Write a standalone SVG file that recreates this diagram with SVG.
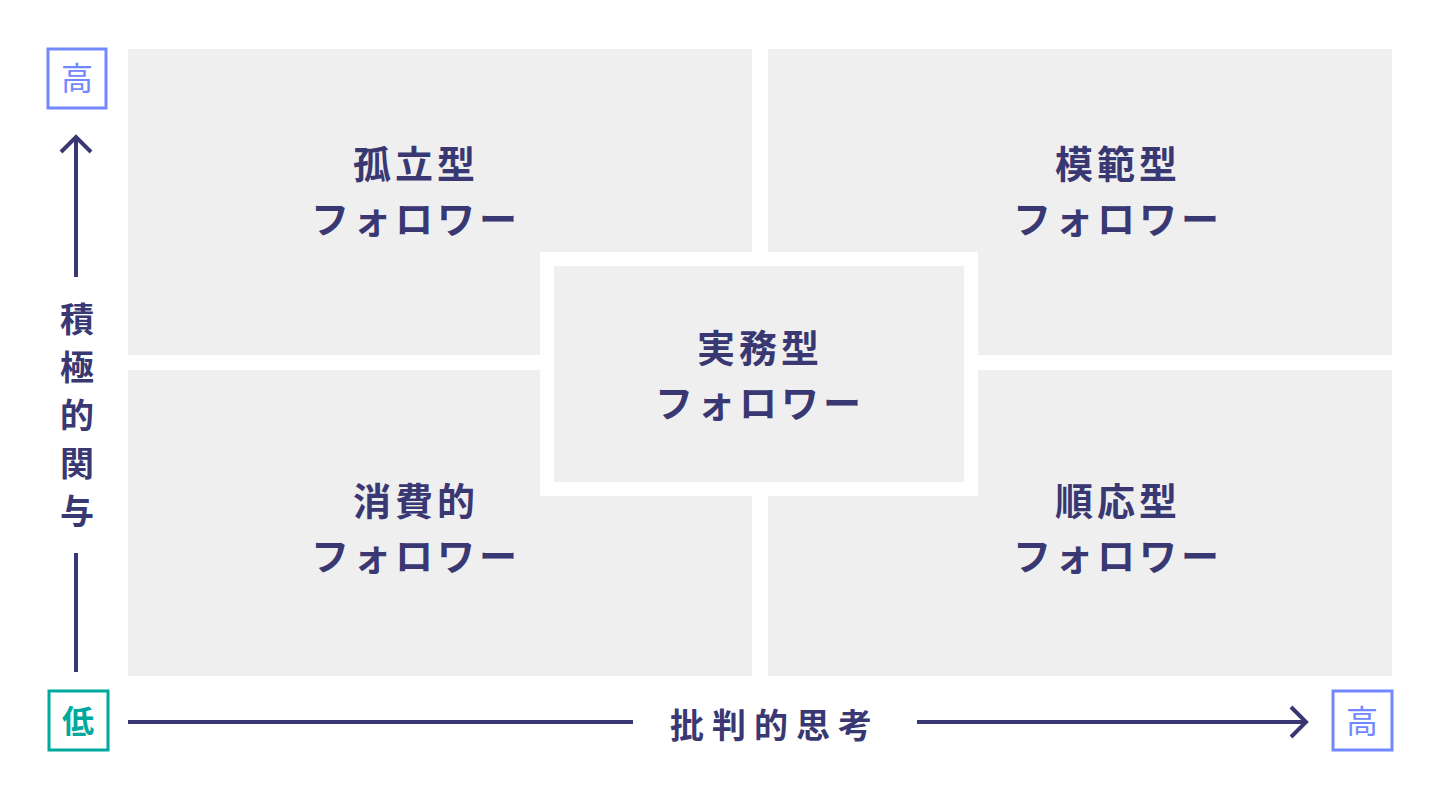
<svg xmlns="http://www.w3.org/2000/svg" width="1440" height="800" viewBox="0 0 1440 800">
<style>
.q{fill:#efefef}
.t{font-family:"Noto Sans CJK JP",sans-serif;font-weight:700;fill:#393872;text-anchor:middle;font-size:38px;letter-spacing:4px}
.ax{font-family:"Noto Sans CJK JP",sans-serif;font-weight:700;fill:#393872;text-anchor:middle;font-size:34px}
.ln{stroke:#393872;stroke-width:4;fill:none}
</style>
<rect width="1440" height="800" fill="#fff"/>
<g id="q-tl"><rect class="q" x="128" y="49" width="624" height="306"/><text class="t" x="416" y="178">孤立型</text><text class="t" x="416" y="233">フォロワー</text></g>
<g id="q-tr"><rect class="q" x="768" y="49" width="624" height="306"/><text class="t" x="1118" y="178">模範型</text><text class="t" x="1118" y="233">フォロワー</text></g>
<g id="q-bl"><rect class="q" x="128" y="370" width="624" height="306"/><text class="t" x="416" y="515">消費的</text><text class="t" x="416" y="570">フォロワー</text></g>
<g id="q-br"><rect class="q" x="768" y="370" width="624" height="306"/><text class="t" x="1118" y="515">順応型</text><text class="t" x="1118" y="570">フォロワー</text></g>
<g id="center"><rect x="540" y="252" width="438" height="244" fill="#fff"/><rect class="q" x="554" y="266" width="410" height="216"/><text class="t" x="760" y="362">実務型</text><text class="t" x="760" y="417">フォロワー</text></g>
<g id="connectors">
<line class="ln" x1="76" y1="137" x2="76" y2="277"/><polyline class="ln" points="61,152 76,137 91,152"/>
<line class="ln" x1="76" y1="553" x2="76" y2="672"/>
<line class="ln" x1="128" y1="722" x2="633" y2="722"/>
<line class="ln" x1="917" y1="722" x2="1305" y2="722"/><polyline class="ln" points="1291,707 1306,722 1291,737"/>
</g>
<g id="hi-v"><rect x="48" y="49" width="58" height="59" fill="none" stroke="#7288ff" stroke-width="3"/><text x="77" y="90" font-family="Noto Sans CJK JP,sans-serif" font-size="32" fill="#7288ff" text-anchor="middle">高</text></g>
<g id="lo"><rect x="49" y="691" width="59" height="59" fill="none" stroke="#00a99d" stroke-width="3"/><text x="78" y="733" font-family="Noto Sans CJK JP,sans-serif" font-weight="700" font-size="32" fill="#00a99d" text-anchor="middle">低</text></g>
<g id="hi-h"><rect x="1333" y="691" width="59" height="59" fill="none" stroke="#7288ff" stroke-width="3"/><text x="1362" y="733" font-family="Noto Sans CJK JP,sans-serif" font-size="32" fill="#7288ff" text-anchor="middle">高</text></g>
<g id="y-label"><text class="ax" x="77" y="332">積</text><text class="ax" x="77" y="380">極</text><text class="ax" x="77" y="428">的</text><text class="ax" x="77" y="476">関</text><text class="ax" x="77" y="524">与</text></g>
<g id="x-label"><text class="ax" x="775" y="738" letter-spacing="8">批判的思考</text></g>
</svg>
